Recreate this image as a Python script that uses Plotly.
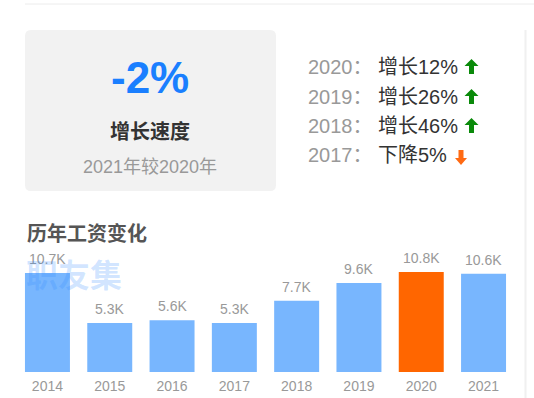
import plotly.graph_objects as go

# ---------------- data ----------------
years = ["2014", "2015", "2016", "2017", "2018", "2019", "2020", "2021"]
salary_k = [10.7, 5.3, 5.6, 5.3, 7.7, 9.6, 10.8, 10.6]
highlight_year = "2020"

kpi_value = "-2%"
kpi_title = "增长速度"
kpi_sub = "2021年较2020年"

list_years = ["2020：", "2019：", "2018：", "2017："]
list_changes = ["增长12%", "增长26%", "增长46%", "下降5%"]
list_up = [True, True, True, False]

chart_title = "历年工资变化"
watermark = "职友集"

# ---------------- styles ----------------
W, H = 534, 398
FONT = "Arial, 'Liberation Sans', 'Noto Sans CJK SC', sans-serif"
BLUE = "#78b6fe"
ORANGE = "#ff6600"

colors = [ORANGE if y == highlight_year else BLUE for y in years]

fig = go.Figure()
fig.add_trace(go.Bar(
    x=years, y=salary_k, marker=dict(color=colors, line=dict(width=0)),
    hoverinfo="skip", xaxis="x", yaxis="y",
))
# helper (pixel-space) axes
fig.add_trace(go.Scatter(x=[], y=[], xaxis="x2", yaxis="y2", hoverinfo="skip", showlegend=False))

annotations = []
shapes = []

# bar value labels (category index positions)
for i, v in enumerate(salary_k):
    annotations.append(dict(x=i, y=v, xref="x", yref="y", text=f"{v:.1f}K",
                            showarrow=False, yanchor="bottom", yshift=4,
                            font=dict(family=FONT, size=14, color="#999999")))

def px_text(x, y, text, size, color, xanchor="center", bold=False, weight=None):
    f = dict(family=FONT, size=size, color=color)
    if weight is not None:
        f["weight"] = weight
    annotations.append(dict(x=x, y=y, xref="x2", yref="y2",
                            text=f"<b>{text}</b>" if bold else text,
                            showarrow=False, xanchor=xanchor, yanchor="middle",
                            font=f))

# card background
cx0, cy0, cx1, cy1, r = 25, 30, 276, 191, 6
card = (f"M {cx0+r},{cy0} L {cx1-r},{cy0} Q {cx1},{cy0} {cx1},{cy0+r} "
        f"L {cx1},{cy1-r} Q {cx1},{cy1} {cx1-r},{cy1} L {cx0+r},{cy1} "
        f"Q {cx0},{cy1} {cx0},{cy1-r} L {cx0},{cy0+r} Q {cx0},{cy0} {cx0+r},{cy0} Z")
shapes.append(dict(type="path", path=card, xref="x2", yref="y2",
                   fillcolor="#f2f2f2", line=dict(width=0), layer="below"))

# top line & right separator
shapes.append(dict(type="line", x0=25, x1=534, y0=4, y1=4, xref="x2", yref="y2",
                   line=dict(color="#ececec", width=1)))
shapes.append(dict(type="line", x0=525.5, x1=525.5, y0=30, y1=398, xref="x2", yref="y2",
                   line=dict(color="#f0f0f0", width=2)))

px_text(150, 77, kpi_value, 44, "#1a7fff", bold=True)
px_text(150, 132, kpi_title, 20, "#333333", bold=True)
px_text(150, 167, kpi_sub, 18, "#999999")

row_y = [67, 97, 126, 155]
for ry, yl, ch, up in zip(row_y, list_years, list_changes, list_up):
    px_text(306, ry, yl, 20, "#999999", xanchor="left")
    px_text(376, ry, ch, 20, "#333333", xanchor="left")
    if up:
        ax, top, hw, hh, sw, ht, col = 471.5, ry - 8, 7, 7, 2.5, 15, "#0a8a0a"
        p = (f"M {ax},{top} L {ax+hw},{top+hh} L {ax+sw},{top+hh} L {ax+sw},{top+ht} "
             f"L {ax-sw},{top+ht} L {ax-sw},{top+hh} L {ax-hw},{top+hh} Z")
    else:
        ax, top, hw, hh, sw, ht, col = 461, ry - 5, 6, 7, 2.5, 15, "#ff6a13"
        bot = top + ht
        p = (f"M {ax},{bot} L {ax+hw},{bot-hh} L {ax+sw},{bot-hh} L {ax+sw},{top} "
             f"L {ax-sw},{top} L {ax-sw},{bot-hh} L {ax-hw},{bot-hh} Z")
    shapes.append(dict(type="path", path=p, xref="x2", yref="y2",
                       fillcolor=col, line=dict(width=0)))

px_text(25, 233, chart_title, 20, "#555555", xanchor="left", bold=True)
px_text(24, 276, watermark, 32, "rgba(50,140,255,0.22)", xanchor="left", bold=True)

x_left, x_right = 16.3, 514.7
y_bottom, px_per_k, y_max = 372, 9.26, 12

fig.update_layout(
    width=W, height=H, margin=dict(l=0, r=0, t=0, b=0),
    paper_bgcolor="white", plot_bgcolor="rgba(0,0,0,0)",
    showlegend=False, bargap=0.278,
    xaxis=dict(domain=[x_left / W, x_right / W], type="category",
               range=[-0.5, len(years) - 0.5], autorange=False, automargin=False,
               anchor="y", showgrid=False, zeroline=False, showline=False,
               ticks="", ticklabelstandoff=4,
               tickfont=dict(family=FONT, size=14, color="#999999"),
               fixedrange=True),
    yaxis=dict(domain=[1 - y_bottom / H, 1 - (y_bottom - px_per_k * y_max) / H],
               range=[0, y_max], autorange=False, visible=False, anchor="x",
               fixedrange=True, automargin=False),
    xaxis2=dict(domain=[0, 1], range=[0, W], autorange=False, visible=False,
                anchor="y2", fixedrange=True, automargin=False),
    yaxis2=dict(domain=[0, 1], range=[H, 0], autorange=False, visible=False,
                anchor="x2", fixedrange=True, automargin=False),
    annotations=annotations, shapes=shapes,
)

fig.write_html("out.html", config={"displayModeBar": False})
